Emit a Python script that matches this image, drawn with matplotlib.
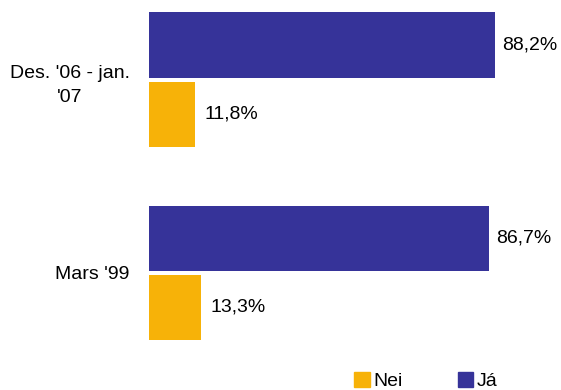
import matplotlib
matplotlib.use("Agg")
import matplotlib.pyplot as plt
from matplotlib.patches import Patch

categories = ["Des. '06 - jan.\n'07", "Mars '99"]
ja_values = [88.2, 86.7]
nei_values = [11.8, 13.3]
ja_labels = ["88,2%", "86,7%"]
nei_labels = ["11,8%", "13,3%"]

plt.rcParams['font.family'] = ["Liberation Sans", "DejaVu Sans"]

BLUE = "#363399"
YELLOW = "#F7B208"

fig = plt.figure(figsize=(5.61, 3.90), dpi=100)
ax = fig.add_axes([149/561, 40/390, 1 - 149/561, 350/390])

off = 0.179
h = 0.337
ys = list(range(len(categories)))
ax.barh([y - off for y in ys], ja_values, height=h, color=BLUE)
ax.barh([y + off for y in ys], nei_values, height=h, color=YELLOW)

for y, v, t in zip(ys, ja_values, ja_labels):
    ax.text(v + 1.8, y - off, t, va='center', ha='left', fontsize=14)
for y, v, t in zip(ys, nei_values, nei_labels):
    ax.text(v + 2.4, y + off, t, va='center', ha='left', fontsize=14)

ax.set_xlim(0, 105)
ax.set_ylim(1.401, -0.412)
ax.set_yticks(ys)
ax.set_yticklabels(categories, fontsize=14, multialignment='center', linespacing=1.55)
ax.tick_params(axis='y', length=0, pad=14)
ax.set_xticks([])
for s in ax.spines.values():
    s.set_visible(False)

handles = [Patch(color=YELLOW, label="Nei"), Patch(color=BLUE, label="Já")]
fig.legend(handles=handles, loc='center', bbox_to_anchor=(426/561, 1 - 381/390),
           ncol=2, frameon=False, fontsize=14, handlelength=0.8, handleheight=0.8,
           handletextpad=0.2, columnspacing=2.8, borderaxespad=0)

fig.savefig("out.png", dpi=100)
